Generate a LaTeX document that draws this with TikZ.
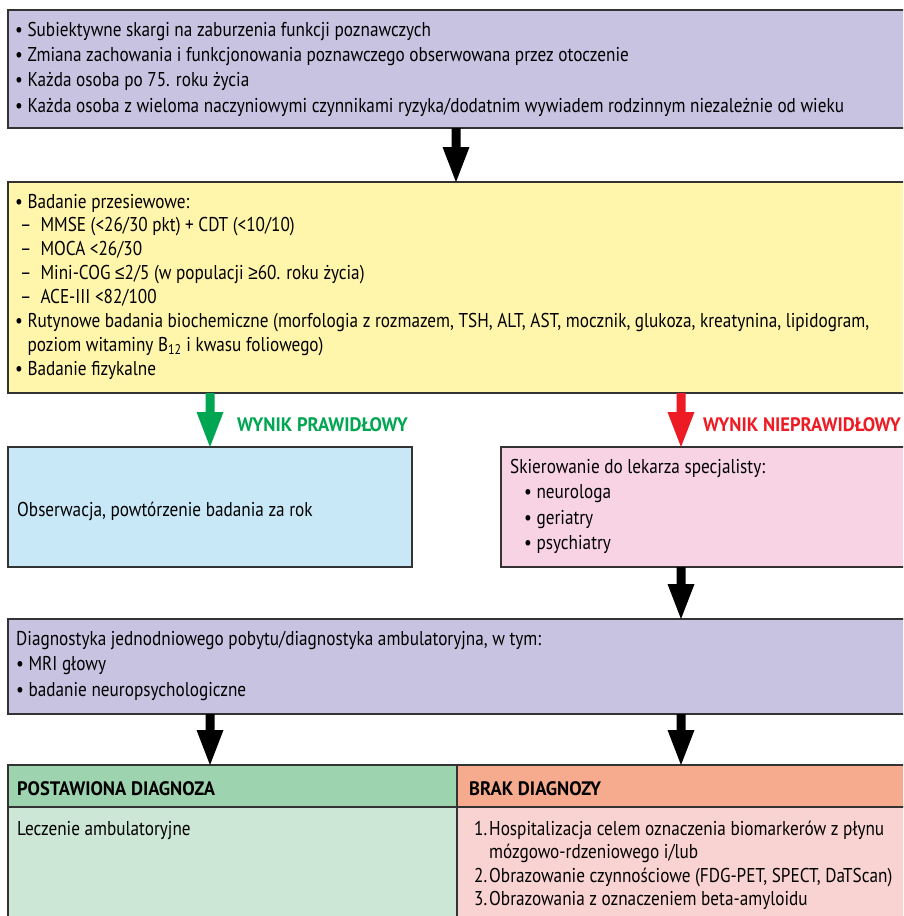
\documentclass[tikz,border=0pt]{standalone}
\usepackage{fontspec}
\setmainfont[FakeStretch=0.86]{PT Sans}
\newfontfamily\lblfont[FakeStretch=0.95]{PT Sans}
\newfontfamily\symfont[FakeStretch=0.86]{Liberation Sans}
\usetikzlibrary{calc}
\definecolor{lav}{HTML}{C7C3E1}
\definecolor{yel}{HTML}{FFF6AB}
\definecolor{sky}{HTML}{C9E8F7}
\definecolor{pnk}{HTML}{F8D3E4}
\definecolor{grnH}{HTML}{9DD4AF}
\definecolor{grnB}{HTML}{CDE7D6}
\definecolor{orgH}{HTML}{F7AB8E}
\definecolor{orgB}{HTML}{F9D3D1}
\definecolor{okgreen}{HTML}{00A651}
\definecolor{badred}{HTML}{ED1C24}
\definecolor{edgecol}{HTML}{333333}
\newcommand\tblock[2]{\parbox[t]{880pt}{\fontsize{20}{#1}\selectfont\raggedright #2}}
\newcommand\lbl[1]{{\lblfont\fontsize{19.5}{20}\selectfont\bfseries #1}}
\begin{document}
\begin{tikzpicture}[x=1pt,y=-1pt,
  box/.style={draw=edgecol, line width=1.2pt, rectangle, inner sep=0pt, outer sep=0pt, anchor=north west},
  txt/.style={inner sep=0pt, anchor=base west},
  blockarrow/.style={to path={let \p1=(\tikztostart), \p2=(\tikztotarget) in
     (\x1-4.5pt,\y1) -- (\x1-4.5pt,\y2+35pt) -- (\x1-13.5pt,\y2+35pt) -- (\x1,\y2)
     -- (\x1+13.5pt,\y2+35pt) -- (\x1+4.5pt,\y2+35pt) -- (\x1+4.5pt,\y1) -- cycle}},
]
\useasboundingbox (0,0) rectangle (903,916);
\clip (0,0) rectangle (903,916);
\fill[white] (0,0) rectangle (903,916);

% boxes
\node[box, fill=lav, minimum width=897pt, minimum height=118pt] (top) at (8,10) {};
\node[box, fill=yel, minimum width=897pt, minimum height=211pt] (yel) at (8,182) {};
\node[box, fill=sky, minimum width=404pt, minimum height=120pt] (obs) at (8,447) {};
\node[box, fill=pnk, minimum width=404pt, minimum height=120pt] (ref) at (501,447) {};
\node[box, fill=lav, minimum width=897pt, minimum height=95pt] (diag) at (8,619) {};
\node[box, fill=grnH, minimum width=449pt, minimum height=42pt] (okH) at (8,765) {};
\node[box, fill=grnB, minimum width=449pt, minimum height=115pt] (okB) at (8,807) {};
\node[box, fill=orgH, minimum width=448pt, minimum height=42pt] (noH) at (457,765) {};
\node[box, fill=orgB, minimum width=448pt, minimum height=115pt] (noB) at (457,807) {};

% arrow columns
\coordinate (cmid) at (456,0);
\coordinate (cleft) at (210,0);
\coordinate (cright) at (681,0);

\fill[black] (cmid |- top.south) to[blockarrow] (cmid |- yel.north);
\fill[okgreen] (cleft |- yel.south) to[blockarrow] (cleft |- obs.north);
\fill[badred] (cright |- yel.south) to[blockarrow] (cright |- ref.north);
\fill[black] (cright |- ref.south) to[blockarrow] (cright |- diag.north);
\fill[black] (cleft |- diag.south) to[blockarrow] (cleft |- okH.north);
\fill[black] (cright |- diag.south) to[blockarrow] (cright |- noH.north);

% texts
\node[txt] (ttop) at (15,36.5) {\tblock{25.2}{%
• Subiektywne skargi na zaburzenia funkcji poznawczych\\
• Zmiana zachowania i funkcjonowania poznawczego obserwowana przez otoczenie\\
• Każda osoba po 75. roku życia\\
• Każda osoba z wieloma naczyniowymi czynnikami ryzyka/dodatnim wywiadem rodzinnym niezależnie od wieku}};

\node[txt] (tyel) at (15,208) {\tblock{23.9}{%
• Badanie przesiewowe:\\
\hspace*{5pt}–\hspace{9pt}MMSE (<26/30 pkt) + CDT (<10/10)\\
\hspace*{5pt}–\hspace{9pt}MOCA <26/30\\
\hspace*{5pt}–\hspace{9pt}Mini-COG {\symfont ≤}2/5 (w populacji {\symfont ≥}60. roku życia)\\
\hspace*{5pt}–\hspace{9pt}ACE-III <82/100\\
• Rutynowe badania biochemiczne (morfologia z rozmazem, TSH, ALT, AST, mocznik, glukoza, kreatynina, lipidogram,\\
\phantom{• }poziom witaminy B\textsubscript{12} i kwasu foliowego)\\
• Badanie fizykalne}};

\node[txt, text=okgreen] (lok) at (237,431) {\lbl{WYNIK PRAWIDŁOWY}};
\node[txt, text=badred] (lbad) at (703,431) {\lbl{WYNIK NIEPRAWIDŁOWY}};

\node[txt] (tobs) at (17,516) {\tblock{25}{Obserwacja, powtórzenie badania za rok}};

\node[txt] (tref) at (510,473) {\tblock{25.5}{%
Skierowanie do lekarza specjalisty:\\
\hspace*{14pt}• neurologa\\
\hspace*{14pt}• geriatry\\
\hspace*{14pt}• psychiatry}};

\node[txt] (tdiag) at (16,645) {\tblock{25.8}{%
Diagnostyka jednodniowego pobytu/diagnostyka ambulatoryjna, w tym:\\
• MRI głowy\\
• badanie neuropsychologiczne}};

\node[txt] (hok) at (17,795) {\lbl{POSTAWIONA DIAGNOZA}};
\node[txt] (hno) at (469,795) {\lbl{BRAK DIAGNOZY}};

\node[txt] (tok) at (17,835) {\tblock{23.5}{Leczenie ambulatoryjne}};

\node[txt] (tno) at (474,835) {\tblock{23.5}{%
\makebox[15pt][l]{1.}Hospitalizacja celem oznaczenia biomarkerów z płynu\\
\hspace*{15pt}mózgowo-rdzeniowego i/lub\\
\makebox[15pt][l]{2.}Obrazowanie czynnościowe (FDG-PET, SPECT, DaTScan)\\
\makebox[15pt][l]{3.}Obrazowania z oznaczeniem beta-amyloidu}};
\end{tikzpicture}
\end{document}
